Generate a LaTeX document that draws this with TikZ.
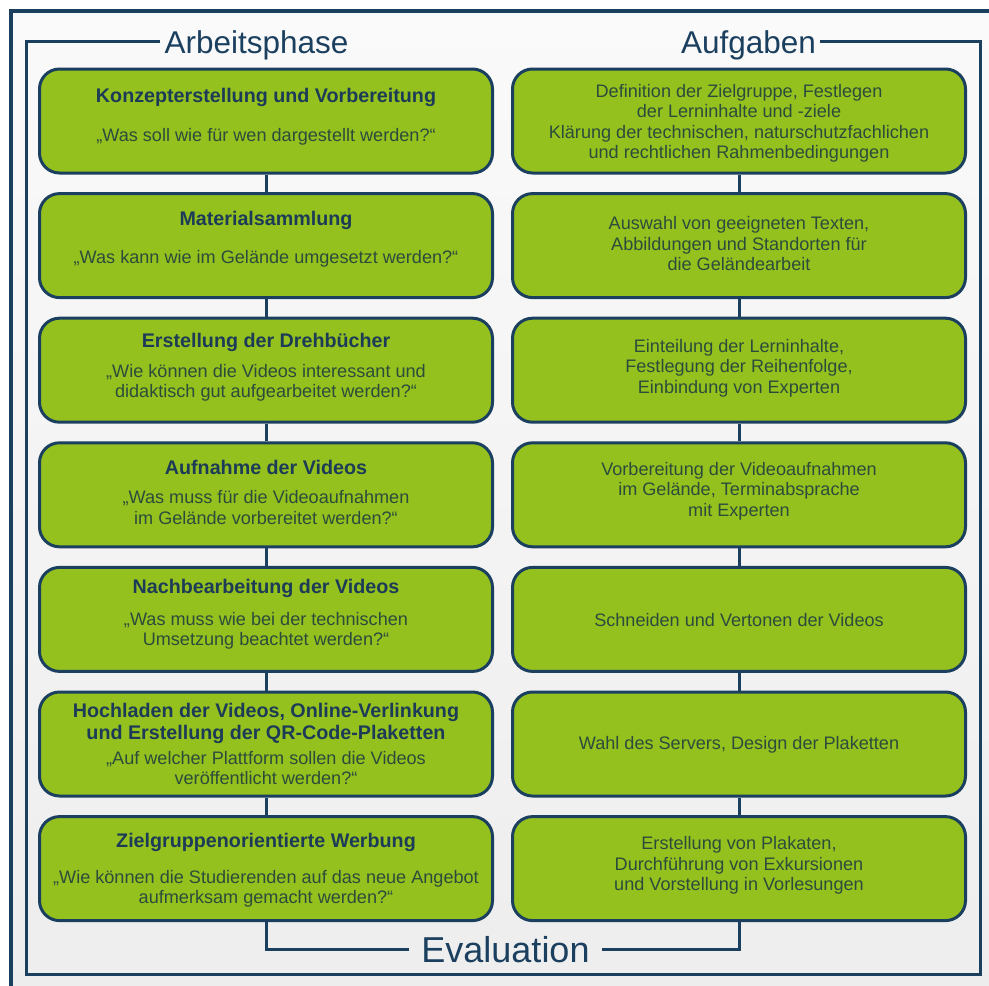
\documentclass[tikz,border=0pt]{standalone}
\usepackage{fontspec}
\setmainfont{Liberation Sans}
\usepackage{tikz}
\definecolor{rahmen}{HTML}{1B3F5F}
\definecolor{gruen}{HTML}{95C11F}
\definecolor{kopfblau}{HTML}{1C3B57}
\definecolor{frage}{HTML}{2B4C3B}
\newcommand{\phasekopf}[1]{{\color{kopfblau}\fontsize{19.7}{22}\selectfont\bfseries #1}}
\tikzset{
	phase/.style={draw=rahmen, fill=gruen, line width=3pt, rounded corners=20pt, minimum width=453pt, minimum height=104pt, inner sep=0pt},
	phasetext/.style={align=center, text=frage, font=\fontsize{18.1}{20.5}\selectfont, inner sep=0pt},
	titel/.style={text=rahmen, font=\fontsize{31.5}{36}\selectfont, inner sep=4pt},
	linie/.style={draw=rahmen, line width=3pt}
}
\begin{document}
\begin{tikzpicture}[x=1pt,y=-1pt]
	\useasboundingbox (0,0) rectangle (989,986);
	
	% Hintergrund und aeusserer Rahmen
	\fill[white] (0,0) rectangle (989,986);
	\shade[top color=white!50!gray!8, bottom color=gray!14] (11,11) rectangle (1000,1000);
	\draw[rahmen, line width=4pt] (11,1000) -- (11,11) -- (1000,11);
	
	% Ueberschriften und innerer Rahmen
	\node[titel, anchor=base] (arbeit) at (256.5,53) {Arbeitsphase};
	\node[titel, anchor=base] (aufgaben) at (748.5,53) {Aufgaben};
	\coordinate (ol) at (26,41);
	\coordinate (ul) at (26,974);
	\coordinate (ur) at (980,974);
	\coordinate (or) at (980,41);
	\draw[linie] (arbeit.west |- ol) -- (ol) -- (ul) -- (ur) -- (or) -- (aufgaben.east |- or);
	
	% Arbeitsphasen
	\node[phase] (k1) at (266,121) {};
	\node[phase] (k2) at (266,245.6) {};
	\node[phase] (k3) at (266,370.2) {};
	\node[phase] (k4) at (266,494.8) {};
	\node[phase] (k5) at (266,619.4) {};
	\node[phase] (k6) at (266,744) {};
	\node[phase] (k7) at (266,868.6) {};
	
	\node[phasetext] (k1t) at (266,116.5) {\phasekopf{Konzepterstellung und Vorbereitung}\\[18.5pt]„Was soll wie für wen dargestellt werden?“};
	\node[phasetext] (k2t) at (266,239) {\phasekopf{Materialsammlung}\\[17.5pt]„Was kann wie im Gelände umgesetzt werden?“};
	\node[phasetext] (k3t) at (266,367) {\phasekopf{Erstellung der Drehbücher}\\[9.5pt]„Wie können die Videos interessant und\\didaktisch gut aufgearbeitet werden?“};
	\node[phasetext] (k4t) at (266,492.5) {\phasekopf{Aufnahme der Videos}\\[8.5pt]„Was muss für die Videoaufnahmen\\im Gelände vorbereitet werden?“};
	\node[phasetext] (k5t) at (266,614) {\phasekopf{Nachbearbeitung der Videos}\\[11.5pt]„Was muss wie bei der technischen\\Umsetzung beachtet werden?“};
	\node[phasetext] (k6t) at (266,744) {\phasekopf{Hochladen der Videos, Online-Verlinkung}\\[1.5pt]\phasekopf{und Erstellung der QR-Code-Plaketten}\\[4.5pt]„Auf welcher Plattform sollen die Videos\\veröffentlicht werden?“};
	\node[phasetext] (k7t) at (266,870) {\phasekopf{Zielgruppenorientierte Werbung}\\[15.5pt]„Wie können die Studierenden auf das neue Angebot\\aufmerksam gemacht werden?“};
	
	% Aufgaben
	\node[phase] (a1) at (739,121) {};
	\node[phase] (a2) at (739,245.6) {};
	\node[phase] (a3) at (739,370.2) {};
	\node[phase] (a4) at (739,494.8) {};
	\node[phase] (a5) at (739,619.4) {};
	\node[phase] (a6) at (739,744) {};
	\node[phase] (a7) at (739,868.6) {};
	
	\node[phasetext] (a1t) at (739,123.5) {Definition der Zielgruppe, Festlegen\\der Lerninhalte und -ziele\\Klärung der technischen, naturschutzfachlichen\\und rechtlichen Rahmenbedingungen};
	\node[phasetext] (a2t) at (739,244) {Auswahl von geeigneten Texten,\\Abbildungen und Standorten für\\die Geländearbeit};
	\node[phasetext] (a3t) at (739,368) {Einteilung der Lerninhalte,\\Festlegung der Reihenfolge,\\Einbindung von Experten};
	\node[phasetext] (a4t) at (739,491) {Vorbereitung der Videoaufnahmen\\im Gelände, Terminabsprache\\mit Experten};
	\node[phasetext] (a5t) at (739,620) {Schneiden und Vertonen der Videos};
	\node[phasetext] (a6t) at (739,745) {Wahl des Servers, Design der Plaketten};
	\node[phasetext] (a7t) at (739,865.5) {Erstellung von Plakaten,\\Durchführung von Exkursionen\\und Vorstellung in Vorlesungen};
	
	% Verbindungen
	\draw[linie] (k1) -- (k2);
	\draw[linie] (k2) -- (k3);
	\draw[linie] (k3) -- (k4);
	\draw[linie] (k4) -- (k5);
	\draw[linie] (k5) -- (k6);
	\draw[linie] (k6) -- (k7);
	\draw[linie] (a1) -- (a2);
	\draw[linie] (a2) -- (a3);
	\draw[linie] (a3) -- (a4);
	\draw[linie] (a4) -- (a5);
	\draw[linie] (a5) -- (a6);
	\draw[linie] (a6) -- (a7);
	
	% Evaluation
	\node[titel, font=\fontsize{36}{40}\selectfont, inner xsep=12pt, anchor=base] (eval) at (505.5,962) {Evaluation};
	\draw[linie] (k7) |- (eval);
	\draw[linie] (a7) |- (eval);
\end{tikzpicture}
\end{document}
